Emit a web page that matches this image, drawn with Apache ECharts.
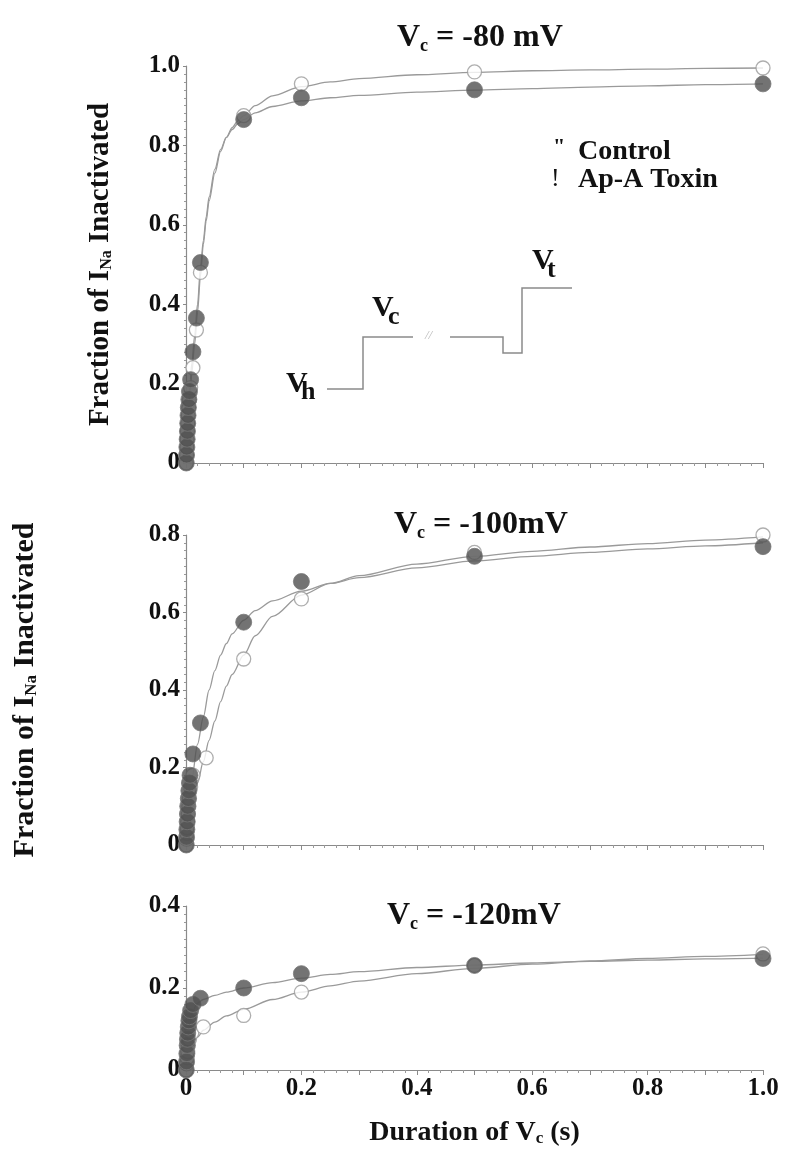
<!DOCTYPE html>
<html><head><meta charset="utf-8">
<script src="https://cdn.jsdelivr.net/npm/echarts@6/dist/echarts.min.js"></script>
<style>html,body{margin:0;padding:0;background:#fff}#c{width:800px;height:1159px}</style>
</head><body><div id="c"></div>
<script>
// ---- tick labels ----
const xTickLabels = ['0','0.2','0.4','0.6','0.8','1.0'];
const yTicksTop = ['0','0.2','0.4','0.6','0.8','1.0'];
const yTicksMid = ['0','0.2','0.4','0.6','0.8'];
const yTicksBot = ['0','0.2','0.4'];

// ---- Vc = -80 mV ----
const ctl80Pts = [[0.0005,0],[0.001,0.02],[0.0015,0.04],[0.002,0.06],[0.0025,0.08],[0.003,0.10],[0.004,0.12],[0.005,0.14],[0.006,0.16],[0.008,0.19],[0.012,0.24],[0.018,0.335],[0.025,0.48],[0.1,0.875],[0.2,0.955],[0.5,0.985],[1.0,0.995]];
const tox80Pts = [[0.0005,0],[0.001,0.02],[0.0015,0.04],[0.002,0.06],[0.0025,0.08],[0.003,0.10],[0.0035,0.12],[0.004,0.14],[0.005,0.16],[0.006,0.18],[0.008,0.21],[0.012,0.28],[0.018,0.365],[0.025,0.505],[0.1,0.865],[0.2,0.92],[0.5,0.94],[1.0,0.955]];
const ctl80Fit = [[0,0],[0.0025,0.07],[0.005,0.13],[0.0075,0.18],[0.01,0.225],[0.015,0.30],[0.02,0.38],[0.025,0.47],[0.03,0.55],[0.035,0.61],[0.04,0.66],[0.05,0.73],[0.06,0.785],[0.07,0.82],[0.08,0.845],[0.09,0.862],[0.1,0.875],[0.12,0.90],[0.15,0.925],[0.2,0.948],[0.25,0.96],[0.3,0.968],[0.4,0.978],[0.5,0.984],[0.6,0.988],[0.7,0.99],[0.8,0.992],[0.9,0.994],[1.0,0.995]];
const tox80Fit = [[0,0],[0.0025,0.09],[0.005,0.16],[0.0075,0.21],[0.01,0.25],[0.015,0.32],[0.02,0.40],[0.025,0.49],[0.03,0.56],[0.035,0.62],[0.04,0.67],[0.05,0.74],[0.06,0.79],[0.07,0.82],[0.08,0.84],[0.09,0.855],[0.1,0.865],[0.12,0.882],[0.15,0.898],[0.2,0.912],[0.25,0.92],[0.3,0.926],[0.4,0.934],[0.5,0.939],[0.6,0.943],[0.7,0.947],[0.8,0.95],[0.9,0.953],[1.0,0.955]];

// ---- Vc = -100 mV ----
const ctl100Pts = [[0.0005,0],[0.001,0.015],[0.0015,0.03],[0.002,0.045],[0.003,0.06],[0.004,0.08],[0.005,0.10],[0.006,0.12],[0.008,0.15],[0.012,0.18],[0.035,0.225],[0.1,0.48],[0.2,0.635],[0.5,0.755],[1.0,0.80]];
const tox100Pts = [[0.0005,0],[0.001,0.02],[0.0015,0.04],[0.002,0.06],[0.0025,0.08],[0.003,0.10],[0.004,0.12],[0.005,0.14],[0.006,0.16],[0.007,0.18],[0.012,0.235],[0.025,0.315],[0.1,0.575],[0.2,0.68],[0.5,0.745],[1.0,0.77]];
const ctl100Fit = [[0,0],[0.005,0.05],[0.01,0.09],[0.02,0.16],[0.03,0.215],[0.04,0.27],[0.05,0.32],[0.06,0.37],[0.07,0.41],[0.08,0.44],[0.1,0.49],[0.12,0.54],[0.15,0.59],[0.2,0.645],[0.25,0.675],[0.3,0.695],[0.4,0.725],[0.5,0.745],[0.6,0.758],[0.7,0.769],[0.8,0.778],[0.9,0.787],[1.0,0.795]];
const tox100Fit = [[0,0],[0.005,0.10],[0.01,0.17],[0.02,0.26],[0.03,0.33],[0.04,0.40],[0.05,0.45],[0.06,0.49],[0.07,0.52],[0.08,0.545],[0.1,0.58],[0.12,0.605],[0.15,0.63],[0.2,0.655],[0.25,0.675],[0.3,0.69],[0.4,0.715],[0.5,0.733],[0.6,0.745],[0.7,0.755],[0.8,0.764],[0.9,0.772],[1.0,0.78]];

// ---- Vc = -120 mV ----
const ctl120Pts = [[0.0005,0],[0.001,0.015],[0.002,0.03],[0.003,0.045],[0.004,0.06],[0.006,0.075],[0.01,0.09],[0.03,0.105],[0.1,0.133],[0.2,0.19],[0.5,0.255],[1.0,0.283]];
const tox120Pts = [[0.0005,0],[0.001,0.02],[0.0015,0.04],[0.002,0.06],[0.0025,0.075],[0.003,0.09],[0.004,0.105],[0.005,0.12],[0.006,0.13],[0.008,0.145],[0.012,0.16],[0.025,0.175],[0.1,0.2],[0.2,0.235],[0.5,0.255],[1.0,0.272]];
const ctl120Fit = [[0,0],[0.005,0.035],[0.01,0.055],[0.02,0.08],[0.03,0.097],[0.05,0.117],[0.07,0.132],[0.1,0.148],[0.15,0.172],[0.2,0.19],[0.25,0.205],[0.3,0.217],[0.4,0.235],[0.5,0.248],[0.6,0.258],[0.7,0.266],[0.8,0.272],[0.9,0.277],[1.0,0.282]];
const tox120Fit = [[0,0],[0.005,0.10],[0.01,0.14],[0.02,0.163],[0.03,0.172],[0.05,0.182],[0.07,0.19],[0.1,0.20],[0.15,0.213],[0.2,0.224],[0.25,0.233],[0.3,0.24],[0.4,0.25],[0.5,0.256],[0.6,0.261],[0.7,0.265],[0.8,0.268],[0.9,0.271],[1.0,0.273]];

const FONT = 'Liberation Serif';
const TXT = '#111';
const chart = echarts.init(document.getElementById('c'), null, {renderer:'canvas'});

const grids = [
  {left:186, top:66, width:577, height:397},
  {left:186, top:535, width:577, height:310},
  {left:186, top:906, width:577, height:164}
];

function xAxis(i, showLabels){
  return {
    type:'value', gridIndex:i, min:0, max:1.0, interval:0.1,
    axisLine:{show:true, lineStyle:{color:'#8a8a8a', width:1.2}},
    axisTick:{show:true, length:5, lineStyle:{color:'#8a8a8a'}},
    minorTick:{show:true, splitNumber:5, length:3, lineStyle:{color:'#9a9a9a'}},
    splitLine:{show:false},
    axisLabel:{show:showLabels, margin:6, fontFamily:FONT, fontWeight:'bold', fontSize:25, color:TXT,
      formatter:v=>{const r=Math.round(v*10); return r%2===0 ? xTickLabels[r/2] : '';}},
    name: showLabels ? '{a|Duration of V}{s|c}{a| (s)}' : '',
    nameLocation:'middle', nameGap:48,
    nameTextStyle:{rich:{
      a:{fontFamily:FONT, fontWeight:'bold', fontSize:28, color:TXT},
      s:{fontFamily:FONT, fontWeight:'bold', fontSize:17, color:TXT, verticalAlign:'bottom', padding:[12,0,0,0]}
    }}
  };
}
function yAxis(i, max, labels, name, gap, fs){
  return {
    type:'value', gridIndex:i, min:0, max:max, interval:0.2,
    axisLine:{show:true, lineStyle:{color:'#8a8a8a', width:1.2}},
    axisTick:{show:true, length:3, lineStyle:{color:'#8a8a8a'}},
    minorTick:{show:true, splitNumber:10, length:2, lineStyle:{color:'#9a9a9a'}},
    splitLine:{show:false},
    axisLabel:{margin:6, fontFamily:FONT, fontWeight:'bold', fontSize:25, color:TXT,
      formatter:v=>labels[Math.round(v*5)]},
    name: name ? '{a|Fraction of I}{s|Na}{a| Inactivated}' : '',
    nameLocation:'middle', nameRotate:90, nameGap:gap,
    nameTextStyle:{rich:{
      a:{fontFamily:FONT, fontWeight:'bold', fontSize:fs||28, color:TXT},
      s:{fontFamily:FONT, fontWeight:'bold', fontSize:Math.round((fs||28)*0.56), color:TXT, verticalAlign:'bottom', padding:[12,0,0,0]}
    }}
  };
}

function fit(data, i){
  return {type:'line', xAxisIndex:i, yAxisIndex:i, data:data, smooth:0.3, smoothMonotone:'x',
    showSymbol:false, clip:false, lineStyle:{color:'#9a9a9a', width:1.3}, z:2, silent:true};
}
function openPts(data, i){
  return {type:'scatter', xAxisIndex:i, yAxisIndex:i, data:data, symbol:'circle', symbolSize:14, clip:false,
    itemStyle:{color:'#ffffff', borderColor:'#9a9a9a', borderWidth:1.3}, z:3};
}
function filledPts(data, i){
  return {type:'scatter', xAxisIndex:i, yAxisIndex:i, data:data, symbol:'circle', symbolSize:16, clip:false,
    itemStyle:{color:'#505050', borderColor:'#777', borderWidth:1}, z:4};
}

function titleRich(){
  return {
    a:{fontFamily:FONT, fontWeight:'bold', fontSize:32, color:TXT},
    s:{fontFamily:FONT, fontWeight:'bold', fontSize:18, color:TXT, verticalAlign:'bottom', padding:[16,0,0,0]}
  };
}

const option = {
  animation:false,
  backgroundColor:'#fff',
  title:[
    {text:'{a|V}{s|c}{a| = -80 mV}', left:392, top:16, textStyle:{rich:titleRich()}},
    {text:'{a|V}{s|c}{a| = -100mV}', left:389, top:503, textStyle:{rich:titleRich()}},
    {text:'{a|V}{s|c}{a| = -120mV}', left:382, top:894, textStyle:{rich:titleRich()}}
  ],
  grid:grids,
  xAxis:[xAxis(0,false), xAxis(1,false), xAxis(2,true)],
  yAxis:[yAxis(0,1.0,yTicksTop,true,71,29), yAxis(1,0.8,yTicksMid,true,146,30), yAxis(2,0.4,yTicksBot,false,0)],
  series:[
    fit(ctl80Fit,0), fit(tox80Fit,0), openPts(ctl80Pts,0), filledPts(tox80Pts,0),
    fit(ctl100Fit,1), fit(tox100Fit,1), openPts(ctl100Pts,1), filledPts(tox100Pts,1),
    fit(ctl120Fit,2), fit(tox120Fit,2), openPts(ctl120Pts,2), filledPts(tox120Pts,2)
  ],
  graphic:[
    // legend (as printed)
    {type:'text', left:553, top:136, style:{text:'"', fontFamily:FONT, fontWeight:'bold', fontSize:22, fill:TXT}},
    {type:'text', left:578, top:138, style:{text:'Control', fontFamily:FONT, fontWeight:'bold', fontSize:28, fill:TXT}},
    {type:'text', left:551, top:166, style:{text:'!', fontFamily:FONT, fontSize:26, fill:TXT}},
    {type:'text', left:578, top:166, style:{text:'Ap-A Toxin', fontFamily:FONT, fontWeight:'bold', fontSize:28, fill:TXT}},
    // voltage protocol inset
    {type:'polyline', shape:{points:[[327,389],[363,389],[363,337],[413,337]]}, style:{stroke:'#8a8a8a', lineWidth:1.5, fill:null}},
    {type:'text', left:425, top:329, style:{text:'//', fontFamily:FONT, fontStyle:'italic', fontSize:13, fill:'#bbb'}},
    {type:'polyline', shape:{points:[[450,337],[503,337],[503,353],[522,353],[522,288],[572,288]]}, style:{stroke:'#8a8a8a', lineWidth:1.5, fill:null}},
    {type:'text', left:286, top:369, style:{text:'V', fontFamily:FONT, fontWeight:'bold', fontSize:30, fill:TXT}},
    {type:'text', left:301, top:379, style:{text:'h', fontFamily:FONT, fontWeight:'bold', fontSize:26, fill:TXT}},
    {type:'text', left:372, top:293, style:{text:'V', fontFamily:FONT, fontWeight:'bold', fontSize:30, fill:TXT}},
    {type:'text', left:388, top:304, style:{text:'c', fontFamily:FONT, fontWeight:'bold', fontSize:26, fill:TXT}},
    {type:'text', left:532, top:246, style:{text:'V', fontFamily:FONT, fontWeight:'bold', fontSize:30, fill:TXT}},
    {type:'text', left:547, top:257, style:{text:'t', fontFamily:FONT, fontWeight:'bold', fontSize:26, fill:TXT}}
  ]
};
chart.setOption(option);
</script>
</body></html>
